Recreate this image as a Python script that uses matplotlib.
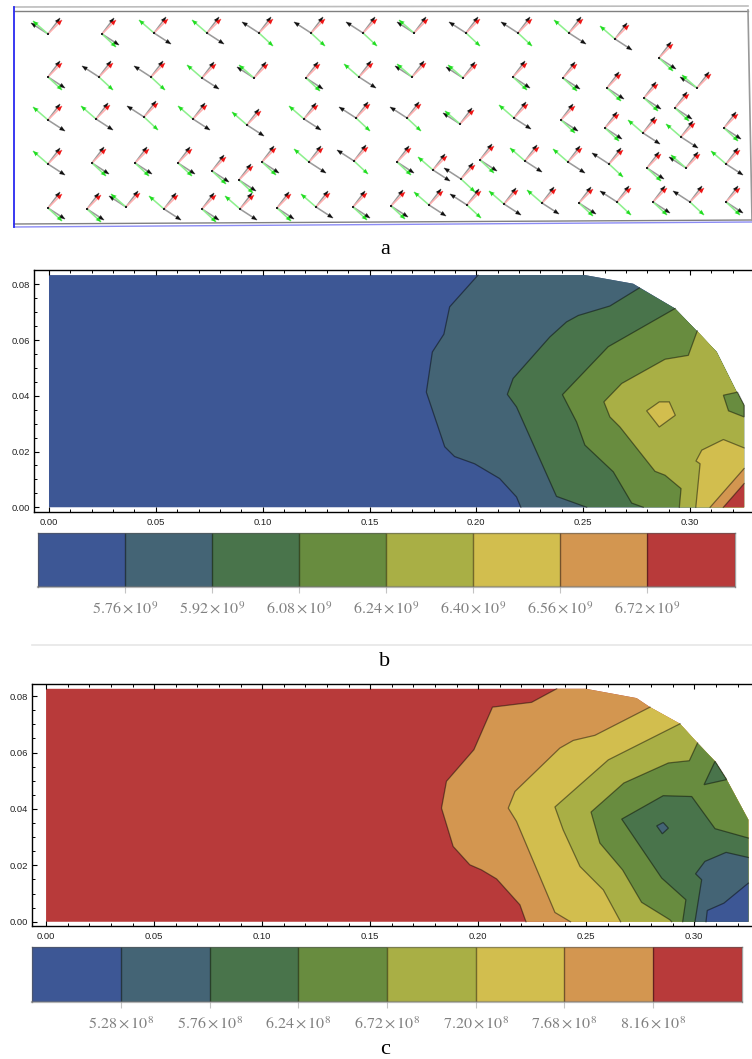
import matplotlib
matplotlib.use("Agg")
import matplotlib.pyplot as plt
from matplotlib.colors import ListedColormap
from matplotlib.ticker import MultipleLocator, FormatStrFormatter
import numpy as np

plt.rcParams['font.family'] = ['Liberation Sans', 'DejaVu Sans']
plt.rcParams['mathtext.fontset'] = 'stix'

W, H = 752, 1059

# --- panel a: nodes of the fibre plot, in picture coordinates
# LL both side arrows up-left, RR both down-right, G green up-left, K black up-left
nodes_row1 = [(48, 34, 'LL'), (102, 34, 'RR'), (154, 33, 'G'), (207, 33, 'G'), (259, 33, 'K'), (311, 33, 'K'),
              (363, 33, 'K'), (414, 33, 'LL'), (466, 33, 'K'), (518, 33, 'K'), (569, 33, 'G'), (615, 39, 'G')]
nodes_row2 = [(48, 77, 'RR'), (99, 77, 'K'), (151, 77, 'K'), (202, 78, 'G'), (254, 78, 'LL'), (306, 78, 'RR'),
              (359, 77, 'G'), (412, 77, 'LL'), (463, 78, 'LL'), (513, 77, 'RR'), (563, 78, 'RR'), (607, 88, 'RR'),
              (659, 58, 'RR'), (697, 88, 'LL'), (644, 98, 'RR'), (675, 108, 'RR')]
nodes_row3 = [(48, 120, 'G'), (96, 119, 'G'), (144, 117, 'K'), (193, 119, 'G'), (247, 125, 'G'), (304, 119, 'G'),
              (356, 118, 'K'), (407, 118, 'K'), (460, 124, 'LL'), (514, 118, 'G'), (561, 120, 'RR'), (605, 128, 'RR'),
              (643, 133, 'G'), (681, 137, 'G'), (724, 128, 'RR')]
nodes_row4 = [(48, 164, 'G'), (92, 163, 'RR'), (135, 163, 'RR'), (178, 163, 'RR'), (212, 171, 'RR'), (239, 180, 'RR'),
              (262, 162, 'RR'), (309, 162, 'G'), (354, 161, 'K'), (397, 162, 'RR'), (433, 170, 'G'), (461, 179, 'K'),
              (480, 160, 'RR'), (525, 161, 'G'), (568, 162, 'G'), (609, 164, 'K'), (647, 168, 'RR'), (686, 168, 'LL'),
              (726, 164, 'G')]
nodes_row5 = [(48, 208, 'RR'), (87, 209, 'RR'), (126, 207, 'LL'), (164, 209, 'G'), (202, 209, 'RR'), (240, 209, 'G'),
              (277, 208, 'RR'), (316, 207, 'G'), (353, 207, 'RR'), (391, 206, 'RR'), (429, 205, 'G'), (467, 205, 'K'),
              (504, 204, 'G'), (542, 203, 'G'), (579, 203, 'RR'), (617, 202, 'K'), (653, 202, 'RR'), (690, 202, 'K'),
              (726, 202, 'RR')]

black_up = (12, -16)
red_up = (14, -14)
black_side = {'LL': (-17, -11), 'RR': (17, 11), 'G': (17, 11), 'K': (-17, -11)}
green_side = {'LL': (-15, -13), 'RR': (14, 13), 'G': (-15, -13), 'K': (14, 13)}

# --- panel b: contour boundaries (x, y), top to bottom
outline_b = [(0.2508, 0.0833), (0.2734, 0.0802), (0.2930, 0.0713), (0.3031, 0.0633), (0.3125, 0.0557),
             (0.3219, 0.0413), (0.3253, 0.0366)]
top_b = 0.0833
levels_b = [
    [(0.2008, 0.0833), (0.1875, 0.0719), (0.1848, 0.0621), (0.1794, 0.0557), (0.1766, 0.0413), (0.1852, 0.0217),
     (0.1898, 0.0182), (0.1992, 0.0156), (0.2109, 0.0103), (0.2188, 0.0037), (0.2208, 0)],
    [(0.2763, 0.0787), (0.2625, 0.0722), (0.2477, 0.0688), (0.2422, 0.0665), (0.2344, 0.0611), (0.2172, 0.0462),
     (0.2145, 0.0405), (0.2188, 0.0360), (0.2375, 0.0039), (0.2516, 0)],
    [(0.2930, 0.0713), (0.2617, 0.0576), (0.2403, 0.0404), (0.2469, 0.0306), (0.2508, 0.0223), (0.2641, 0.0127),
     (0.2727, 0.0015), (0.2781, 0)],
    [(0.3034, 0.0633), (0.2992, 0.0545), (0.2883, 0.0531), (0.2680, 0.0444), (0.2597, 0.0378), (0.2625, 0.0324),
     (0.2672, 0.0288), (0.2836, 0.0129), (0.2883, 0.0115), (0.2958, 0.0067), (0.2950, 0)],
    [(0.3253, 0.0213), (0.3156, 0.0243), (0.3055, 0.0205), (0.3028, 0.0166), (0.3047, 0.0156), (0.3027, 0)],
    [(0.3253, 0.0139), (0.3094, 0)],
    [(0.3253, 0.0085), (0.3156, 0)],
]
# closed islands: (colour index, points)
islands_b = [
    (3, [(0.3156, 0.0402), (0.3222, 0.0413), (0.3253, 0.0366), (0.3253, 0.0324), (0.3180, 0.0346)]),
    (5, [(0.2797, 0.0346), (0.2856, 0.0378), (0.2903, 0.0378), (0.2931, 0.0330), (0.2856, 0.0288)]),
]

# --- panel c
outline_c = [(0.2498, 0.0826), (0.2733, 0.0793), (0.2795, 0.0761), (0.2934, 0.0702), (0.3015, 0.0634),
             (0.3096, 0.0569), (0.3150, 0.0504), (0.3250, 0.0362)]
top_c = 0.0826
levels_c = [
    [(0.2363, 0.0826), (0.2247, 0.0778), (0.2066, 0.0761), (0.1980, 0.0610), (0.1853, 0.0498), (0.1830, 0.0403),
     (0.1884, 0.0267), (0.1961, 0.0202), (0.2015, 0.0184), (0.2085, 0.0152), (0.2193, 0.0060), (0.2221, 0)],
    [(0.2795, 0.0761), (0.2540, 0.0661), (0.2440, 0.0643), (0.2378, 0.0616), (0.2170, 0.0462), (0.2139, 0.0403),
     (0.2177, 0.0356), (0.2355, 0.0033), (0.2427, 0)],
    [(0.2934, 0.0702), (0.2602, 0.0574), (0.2355, 0.0407), (0.2393, 0.0326), (0.2471, 0.0196), (0.2579, 0.0113),
     (0.2659, 0)],
    [(0.3015, 0.0634), (0.2977, 0.0571), (0.2880, 0.0563), (0.2674, 0.0492), (0.2522, 0.0389), (0.2563, 0.0279),
     (0.2668, 0.0184), (0.2756, 0.0069), (0.2887, 0.0007), (0.2895, 0)],
    [(0.3250, 0.0297), (0.3096, 0.0330), (0.2988, 0.0444), (0.2856, 0.0447), (0.2664, 0.0364), (0.2849, 0.0155),
     (0.2961, 0.0078), (0.2946, 0)],
    [(0.3250, 0.0228), (0.3147, 0.0246), (0.3049, 0.0214), (0.3006, 0.0170), (0.3034, 0.0149), (0.3003, 0)],
    [(0.3250, 0.0137), (0.3137, 0.0066), (0.3060, 0.0040), (0.3054, 0)],
]
islands_c = [
    (5, [(0.3096, 0.0569), (0.3150, 0.0504), (0.3045, 0.0486)]),
    (6, [(0.2826, 0.0340), (0.2856, 0.0352), (0.2880, 0.0332), (0.2852, 0.0312)]),
]

# colour bars
palette = ['#3D5795', '#446475', '#49744B', '#688C3F', '#A9AF45', '#D2BE4E', '#D39650', '#B83A3A']
bar_edges_b = [5.60, 5.76, 5.92, 6.08, 6.24, 6.40, 6.56, 6.72, 6.88]
bar_labels_b = ['5.76', '5.92', '6.08', '6.24', '6.40', '6.56', '6.72']
bar_edges_c = [4.80, 5.28, 5.76, 6.24, 6.72, 7.20, 7.68, 8.16, 8.64]
bar_labels_c = ['5.28', '5.76', '6.24', '6.72', '7.20', '7.68', '8.16']


def px_axes(fig, left, top, right, bottom):
    return fig.add_axes([left / W, 1 - bottom / H, (right - left) / W, (bottom - top) / H])


def region(boundary, outline):
    # everything to the right of a boundary, following the outer edge back up
    xmax = outline[-1][0]
    rest = [p for p in outline if p[0] > boundary[0][0]]
    return boundary + [(xmax, 0)] + rest[::-1]


def draw_contours(ax, outline, top, levels, islands, colors):
    base = region([(0, top), (0, 0)], outline)
    ax.fill(*zip(*base), color=colors[0], lw=0, zorder=1)
    for i, line in enumerate(levels):
        ax.fill(*zip(*region(line, outline)), color=colors[i + 1], lw=0, zorder=2 + i)
        ax.plot(*zip(*line), color='black', alpha=0.45, lw=0.9, zorder=2.5 + i)
    for idx, pts in islands:
        ax.fill(*zip(*pts), facecolor=colors[idx], edgecolor=(0, 0, 0, 0.45), lw=0.9, zorder=20)


def style_axes(ax, xlim, ylim):
    ax.set_xlim(xlim)
    ax.set_ylim(ylim)
    ax.spines['right'].set_visible(False)
    for s in ['left', 'top', 'bottom']:
        ax.spines[s].set_linewidth(1.0)
    ax.xaxis.set_major_locator(MultipleLocator(0.05))
    ax.xaxis.set_minor_locator(MultipleLocator(0.01))
    ax.yaxis.set_major_locator(MultipleLocator(0.02))
    ax.yaxis.set_minor_locator(MultipleLocator(0.005))
    ax.xaxis.set_major_formatter(FormatStrFormatter('%.2f'))
    ax.yaxis.set_major_formatter(FormatStrFormatter('%.2f'))
    ax.tick_params(which='major', direction='in', length=3.6, width=0.8, top=True, labelsize=6.8, pad=4,
                   labelcolor='#222222')
    ax.tick_params(which='minor', direction='in', length=2.0, width=0.7, top=True)
    ax.tick_params(axis='y', which='major', pad=2.5)


def draw_bar(ax, edges, labels, power):
    values = np.arange(len(palette)).reshape(1, -1)
    ax.pcolormesh(edges, [0, 1], values, cmap=ListedColormap(palette), shading='flat')
    ax.set_xlim(edges[0], edges[-1])
    ax.set_ylim(0, 1)
    ax.set_yticks([])
    ax.vlines(edges[1:-1], 0, 1, color='black', alpha=0.45, lw=1.0)
    ax.set_xticks(edges[1:-1])
    ax.set_xticklabels([r'$%s\times 10^{%d}$' % (s, power) for s in labels], fontsize=11.5, color='#808080')
    ax.tick_params(axis='x', direction='out', length=4.5, width=0.8, color='#c4c4c4', pad=5.5)
    for s in ax.spines.values():
        s.set_color('#555555')
        s.set_alpha(0.55)
        s.set_linewidth(1.0)
    ax.spines['bottom'].set_color('#777777')
    ax.spines['bottom'].set_linewidth(1.6)


fig = plt.figure(figsize=(W / 100, H / 100), dpi=100)

# panel a
ax_a = fig.add_axes([0, 0, 1, 1])
ax_a.set_xlim(0, W)
ax_a.set_ylim(H, 0)
ax_a.axis('off')

nodes = nodes_row1 + nodes_row2 + nodes_row3 + nodes_row4 + nodes_row5
node_x = np.array([n[0] for n in nodes], dtype=float)
node_y = np.array([n[1] for n in nodes], dtype=float)
kinds = [n[2] for n in nodes]

ax_a.plot([14, 748], [7, 6], color='#bdbdbd', lw=1.2)
ax_a.plot([14, 748], [11, 11], color='#808080', lw=1.0)
ax_a.plot([14, 752], [224, 220], color='#808080', lw=1.0)
ax_a.plot([14, 752], [227, 222], color='#5a5af0', lw=1.0, alpha=0.7)
ax_a.plot([14, 14], [7, 227], color='#2a2af0', lw=1.3)
ax_a.plot([748, 752], [10, 220], color='#999999', lw=1.2)

vectors = [
    (np.array([black_up] * len(nodes), dtype=float), '#9a9a9a', '#111111'),
    (np.array([red_up] * len(nodes), dtype=float), '#ffb0b0', '#ee1515'),
    (np.array([black_side[k] for k in kinds], dtype=float), '#9a9a9a', '#111111'),
    (np.array([green_side[k] for k in kinds], dtype=float), '#8df08d', '#22dd22'),
]
for vec, shaft, head in vectors:
    ax_a.quiver(node_x, node_y, vec[:, 0], vec[:, 1], angles='xy', scale_units='xy', scale=1,
                color=shaft, width=0.0021, headwidth=1, headlength=0, headaxislength=0)
    ax_a.quiver(node_x + 0.72 * vec[:, 0], node_y + 0.72 * vec[:, 1], 0.28 * vec[:, 0], 0.28 * vec[:, 1],
                angles='xy', scale_units='xy', scale=1, color=head, width=0.002,
                headwidth=3.4, headlength=4.0, headaxislength=3.6)
ax_a.scatter(node_x, node_y, s=4, color='#222222', marker='s', lw=0, zorder=5)

ax_a.text(385, 250, 'a', family='Liberation Serif', fontsize=16, ha='center', va='center')
ax_a.text(385, 661, 'b', family='Liberation Serif', fontsize=16, ha='center', va='center')
ax_a.text(385, 1050, 'c', family='Liberation Serif', fontsize=16, ha='center', va='center')
ax_a.plot([32, 752], [645, 645], color='#e6e6e6', lw=1.2)

# panel b
ax_b = px_axes(fig, 33.5, 269.5, 752, 512)
draw_contours(ax_b, outline_b, top_b, levels_b, islands_b, palette)
style_axes(ax_b, (-0.00725, 0.3290), (-0.0017, 0.0853))

bar_b = px_axes(fig, 38.3, 533.3, 734.5, 586.7)
draw_bar(bar_b, bar_edges_b, bar_labels_b, 9)

# panel c
ax_c = px_axes(fig, 31.7, 684, 752, 926)
draw_contours(ax_c, outline_c, top_c, levels_c, islands_c, palette[::-1])
style_axes(ax_c, (-0.00665, 0.3267), (-0.0015, 0.0843))

bar_c = px_axes(fig, 32.3, 946.7, 741.7, 1001.7)
draw_bar(bar_c, bar_edges_c, bar_labels_c, 8)

fig.savefig('out.png', dpi=100)
